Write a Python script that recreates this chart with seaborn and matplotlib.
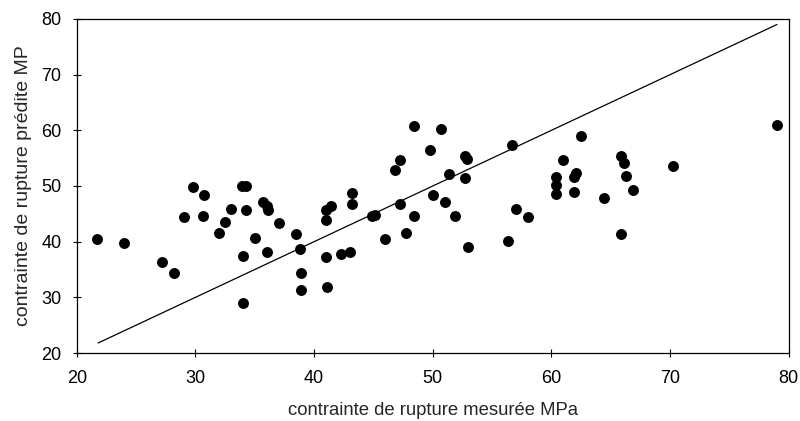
"""
Scatter of predicted vs measured rupture stress, with the y = x reference line.
"""

import numpy as np
import pandas as pd
import matplotlib
matplotlib.use("Agg")
import matplotlib.pyplot as plt
import seaborn as sns

# values (MPa)
measured = [
    21.7, 24.0, 27.2, 28.2, 29.0, 29.8, 30.7, 30.6, 32.0, 32.5,
    33.0, 34.0, 34.0, 33.9, 34.3, 34.3, 35.0, 35.7, 36.0, 36.1,
    36.0, 37.0, 38.5, 38.8, 38.9, 38.9, 41.0, 41.4, 41.0, 41.0,
    41.1, 42.3, 43.0, 43.2, 43.2, 44.9, 45.1, 46.0, 46.8, 47.2,
    47.2, 47.7, 48.4, 48.4, 49.8, 50.0, 50.7, 51.0, 51.4, 51.9,
    52.7, 52.9, 52.7, 53.0, 56.3, 56.7, 57.0, 58.0, 62.5, 61.0,
    60.4, 60.4, 60.4, 61.9, 62.1, 61.9, 64.4, 65.9, 66.1, 66.3,
    66.9, 65.9, 70.2, 79.0,
]
predicted = [
    40.5, 39.8, 36.3, 34.4, 44.5, 49.8, 48.4, 44.6, 41.6, 43.5,
    45.9, 37.4, 28.9, 50.0, 50.0, 45.6, 40.7, 47.2, 46.4, 45.7,
    38.1, 43.3, 41.4, 38.7, 34.3, 31.3, 45.7, 46.4, 43.9, 37.2,
    31.9, 37.8, 38.1, 48.7, 46.7, 44.6, 44.7, 40.5, 52.8, 54.7,
    46.7, 41.6, 60.7, 44.6, 56.5, 48.3, 60.2, 47.2, 52.2, 44.6,
    55.4, 54.9, 51.5, 39.0, 40.2, 57.4, 45.9, 44.4, 58.9, 54.6,
    51.7, 50.2, 48.5, 51.7, 52.4, 48.9, 47.8, 55.3, 54.1, 51.8,
    49.2, 41.3, 53.5, 61.0,
]
# ends of the y = x line
line_x = [21.8, 79.0]
line_y = [21.8, 79.0]

x_ticks = [20, 30, 40, 50, 60, 70, 80]
y_ticks = [20, 30, 40, 50, 60, 70, 80]


def main():
    sns.set_style("ticks")
    plt.rcParams["font.family"] = ["Liberation Sans", "DejaVu Sans"]

    df = pd.DataFrame({"measured": measured, "predicted": predicted})

    fig = plt.figure(figsize=(8.0, 4.21), dpi=100)
    ax = fig.add_axes([0.096, 0.1615, 0.89, 0.7935])

    sns.lineplot(x=line_x, y=line_y, color="black", linewidth=0.9, ax=ax)
    sns.scatterplot(data=df, x="measured", y="predicted", color="black",
                    s=62, edgecolor="black", linewidth=0, ax=ax)

    ax.set_xlim(20, 80)
    ax.set_ylim(20, 80)
    ax.set_xticks(x_ticks)
    ax.set_yticks(y_ticks)
    ax.tick_params(direction="inout", length=6, width=0.8, labelsize=13,
                   colors="black")
    ax.tick_params(axis="x", pad=9)
    ax.tick_params(axis="y", pad=8)
    for side in ["top", "right", "bottom", "left"]:
        ax.spines[side].set_visible(True)
        ax.spines[side].set_color("black")
        ax.spines[side].set_linewidth(0.9)

    ax.set_xlabel("contrainte de rupture mesurée MPa", fontsize=13.3, labelpad=11)
    ax.set_ylabel("contrainte de rupture prédite MP", fontsize=14, labelpad=7)

    fig.savefig("out.png", dpi=100, facecolor="white")
    plt.close(fig)


if __name__ == "__main__":
    main()
